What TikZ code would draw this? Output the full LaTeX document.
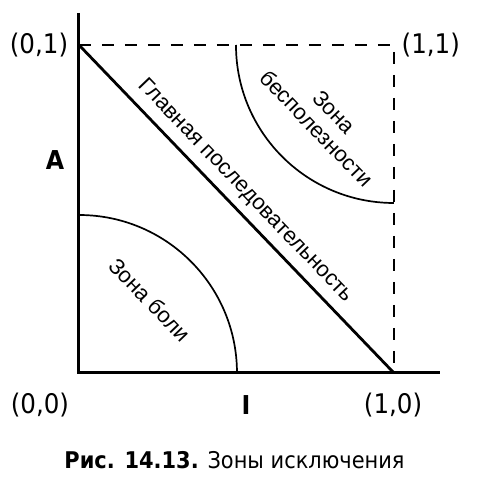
\documentclass[tikz,border=0pt]{standalone}
\usepackage{fontspec}
\setmainfont{DejaVu Sans}[FakeStretch=0.91]
\newfontfamily\zonefont{Liberation Sans}
\usetikzlibrary{calc}

\begin{document}
\begin{tikzpicture}[x=157.5pt,y=164pt,
  axisline/.style={line width=1.5pt},
  border/.style={line width=1.2pt,dash pattern=on 6pt off 5.5pt},
  zone/.style={line width=0.85pt},
  coordlabel/.style={font=\fontsize{13.5}{15}\selectfont},
  axislabel/.style={font=\fontsize{13}{15}\selectfont\bfseries},
  zonetext/.style={font=\zonefont\fontsize{11}{12}\selectfont,rotate=-46.2,align=center}]
  \useasboundingbox (-0.2508,-0.3293) rectangle (1.2698,1.1372);

  % corners of the unit square
  \coordinate (O) at (0,0);
  \coordinate (X1) at (1,0);
  \coordinate (Y1) at (0,1);
  \coordinate (P) at (1,1);
  \coordinate (Xend) at (1.146,0);
  \coordinate (Ytop) at (0,1.098);

  % axes
  \draw[axisline] (Ytop) -- (O) -- (Xend);

  % dashed border
  \draw[border] (Y1) -- (P) -- (X1);

  % main sequence
  \draw[line width=1.4pt] (Y1) -- (X1);

  % zones (radius 79pt)
  \draw[zone] ($(O)+(79pt,0)$) arc (0:90:79pt);
  \draw[zone] ($(P)+(-79pt,0)$) arc (180:270:79pt);

  % labels
  \node[coordlabel] (l01) at (-0.127,1) {(0,1)};
  \node[coordlabel] (l11) at (1.117,1) {(1,1)};
  \node[coordlabel] (l00) at (-0.124,-0.098) {(0,0)};
  \node[coordlabel] (l10) at (0.997,-0.098) {(1,0)};
  \node[axislabel] (labI) at (0.530,-0.098) {I};
  \node[axislabel] (labA) at (-0.076,0.649) {A};

  \node[zonetext] (seq) at (0.529,0.555) {Главная последовательность};
  \node[zonetext] (pain) at (0.225,0.223) {Зона боли};
  \node[zonetext] (useless) at (0.7825,0.770) {Зона\\бесполезности};

  % caption
  \node[font=\fontsize{11.5}{13}\selectfont] (cap) at (0.4937,-0.265) {\textbf{Рис. 14.13.} Зоны исключения};
\end{tikzpicture}
\end{document}
